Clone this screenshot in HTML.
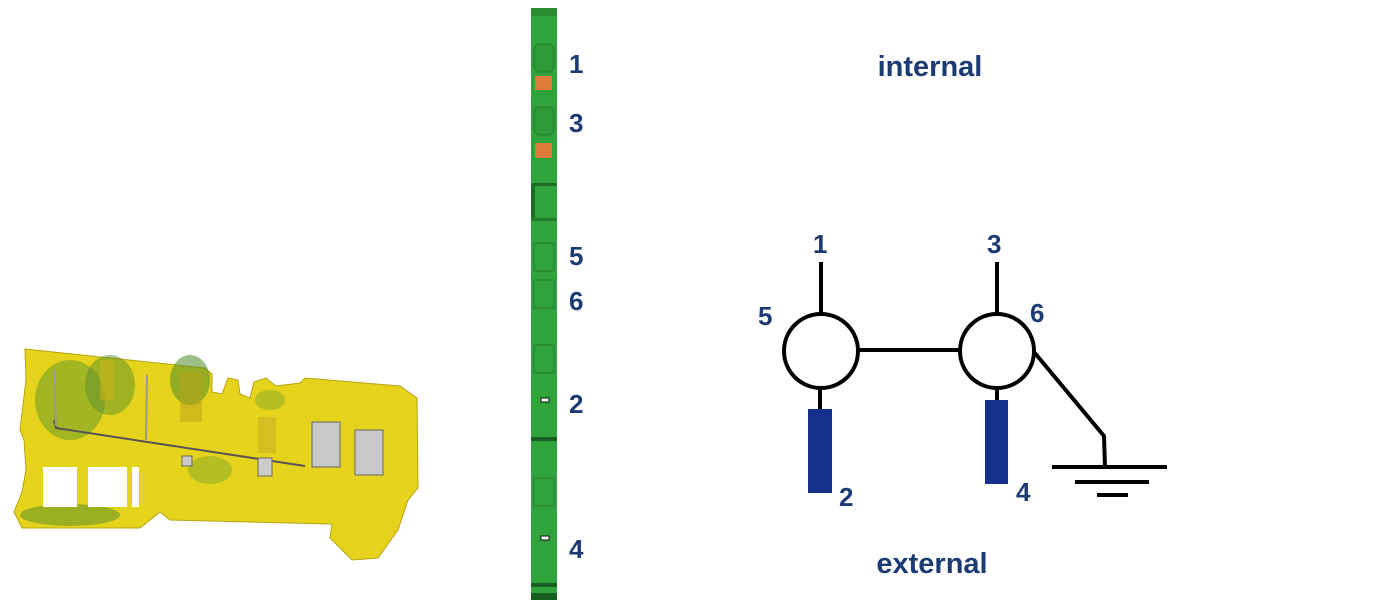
<!DOCTYPE html>
<html><head><meta charset="utf-8"><style>
html,body{margin:0;padding:0;background:#fff;}
svg{display:block;}
text{font-family:"Liberation Sans",sans-serif;font-weight:bold;fill:#1d3b73;}
</style></head><body>
<svg width="1400" height="603" viewBox="0 0 1400 603" xmlns="http://www.w3.org/2000/svg">
<!-- terminal block -->
<g>
<polygon points="25,349 205,368 212,374 212,392 222,394 228,378 238,380 240,394 250,398 254,382 266,378 276,386 300,383 305,378 400,386 417,398 418,488 408,500 398,530 378,558 352,560 330,538 332,524 170,520 160,512 140,528 22,528 14,512 22,492 26,470 24,440 20,430 26,380"
 fill="#e6d41c" stroke="#b8a312" stroke-width="1"/>
<ellipse cx="70" cy="400" rx="35" ry="40" fill="#6a9a2a" opacity="0.55"/>
<ellipse cx="110" cy="385" rx="25" ry="30" fill="#5a8f28" opacity="0.5"/>
<ellipse cx="190" cy="380" rx="20" ry="25" fill="#4f8a2a" opacity="0.55"/>
<ellipse cx="70" cy="515" rx="50" ry="11" fill="#5d902a" opacity="0.55"/>
<ellipse cx="210" cy="470" rx="22" ry="14" fill="#6a9a2a" opacity="0.4"/>
<ellipse cx="270" cy="400" rx="15" ry="10" fill="#6a9a2a" opacity="0.4"/>
<!-- cutouts -->
<rect x="43" y="467" width="34" height="40" fill="#fff"/>
<rect x="88" y="467" width="39" height="40" fill="#fff"/>
<rect x="132" y="467" width="7" height="40" fill="#fff"/>
<rect x="100" y="360" width="14" height="40" fill="#c9b41a" opacity="0.6"/>
<rect x="180" y="372" width="22" height="50" fill="#b7a21c" opacity="0.5"/>
<rect x="258" y="417" width="18" height="36" fill="#d0ba22" opacity="0.8"/>
<!-- rail -->
<polyline points="54,420 56,428 305,466" fill="none" stroke="#555" stroke-width="2"/>
<line x1="54" y1="370" x2="56" y2="426" stroke="#999" stroke-width="2"/>
<line x1="147" y1="375" x2="146" y2="440" stroke="#999" stroke-width="2"/>
<rect x="312" y="422" width="28" height="45" fill="#c8c8c8" stroke="#666"/>
<rect x="355" y="430" width="28" height="45" fill="#c8c8c8" stroke="#666"/>
<rect x="182" y="456" width="10" height="10" fill="#ccc" stroke="#666"/>
<rect x="258" y="458" width="14" height="18" fill="#ccc" stroke="#666"/>
</g>
<!-- green strip -->
<g>
<rect x="531" y="8" width="26" height="592" fill="#31a33c"/>
<rect x="531" y="8" width="26" height="8" fill="#2a8c33"/>
<rect x="534" y="44" width="20" height="28" rx="6" fill="#2e9a38" stroke="#237a2b"/>
<rect x="535" y="76" width="17" height="14" fill="#e07a3a"/>
<rect x="534" y="107" width="20" height="28" rx="6" fill="#2e9a38" stroke="#237a2b"/>
<rect x="535" y="143" width="17" height="15" fill="#e07a3a"/>
<rect x="531" y="183" width="26" height="3" fill="#1f6e25"/>
<rect x="531" y="186" width="4" height="32" fill="#1f6e25"/>
<rect x="531" y="218" width="26" height="3" fill="#237a2b"/>
<rect x="534" y="243" width="20" height="28" fill="none" stroke="#237a2b"/>
<rect x="534" y="280" width="20" height="28" fill="none" stroke="#237a2b"/>
<rect x="534" y="345" width="20" height="28" fill="none" stroke="#237a2b"/>
<rect x="541" y="398" width="8" height="4" fill="#fff" stroke="#111"/>
<rect x="531" y="437" width="26" height="4" fill="#1a5f20"/>
<rect x="534" y="478" width="20" height="28" fill="none" stroke="#237a2b"/>
<rect x="541" y="536" width="8" height="4" fill="#fff" stroke="#111"/>
<rect x="531" y="583" width="26" height="4" fill="#1a5f20"/>
<rect x="531" y="593" width="26" height="7" fill="#1a5f20"/>
</g>
<g font-size="26">
<text x="569" y="73">1</text>
<text x="569" y="132">3</text>
<text x="569" y="265">5</text>
<text x="569" y="310">6</text>
<text x="569" y="413">2</text>
<text x="569" y="558">4</text>
</g>
<text x="930" y="76" font-size="29" text-anchor="middle">internal</text>
<text x="932" y="573" font-size="29" text-anchor="middle">external</text>
<!-- schematic -->
<g stroke="#000" stroke-width="4" fill="none">
<line x1="821" y1="262" x2="821" y2="314"/>
<line x1="997" y1="262" x2="997" y2="314"/>
<circle cx="821" cy="351" r="37" fill="#fff"/>
<circle cx="997" cy="351" r="37" fill="#fff"/>
<line x1="858" y1="350" x2="960" y2="350"/>
<line x1="820" y1="388" x2="820" y2="410"/>
<line x1="997" y1="388" x2="997" y2="401"/>
<polyline points="1034,352 1104,436 1105,467"/>
<line x1="1052" y1="467" x2="1167" y2="467"/>
<line x1="1075" y1="482" x2="1149" y2="482"/>
<line x1="1097" y1="495" x2="1128" y2="495"/>
</g>
<rect x="808" y="409" width="24" height="84" fill="#152f8c"/>
<rect x="985" y="400" width="23" height="84" fill="#152f8c"/>
<g font-size="26">
<text x="813" y="253">1</text>
<text x="987" y="253">3</text>
<text x="758" y="325">5</text>
<text x="1030" y="322">6</text>
<text x="839" y="506">2</text>
<text x="1016" y="501">4</text>
</g>
</svg>
</body></html>
